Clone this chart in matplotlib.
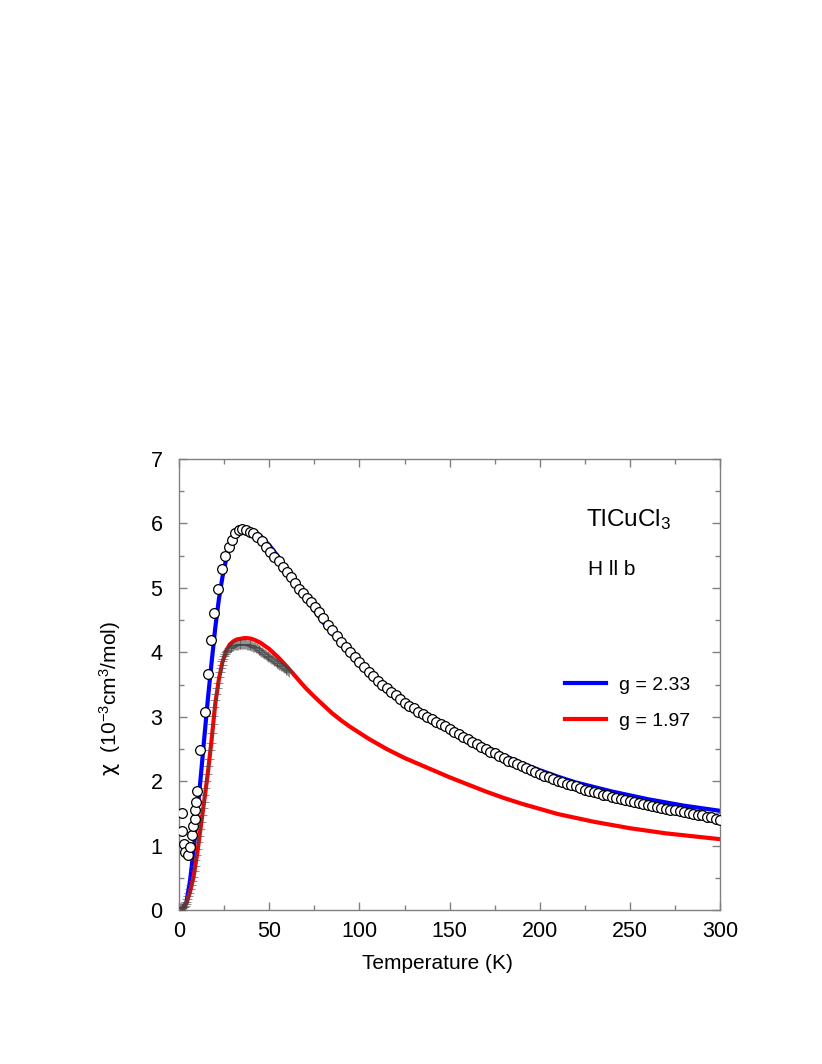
import matplotlib
matplotlib.use("Agg")
import matplotlib.pyplot as plt
from matplotlib.ticker import MultipleLocator

plt.rcParams['font.family'] = ['Liberation Sans', 'DejaVu Sans']
plt.rcParams['mathtext.fontset'] = 'custom'
plt.rcParams['mathtext.rm'] = 'Liberation Sans'
plt.rcParams['mathtext.sf'] = 'DejaVu Sans'
plt.rcParams['mathtext.default'] = 'regular'

# measured susceptibility, H || b (open circles)
circ_T = [1.5, 1.8, 2.4, 3.3, 4.8, 6.1, 7.0, 7.9, 8.5, 8.9, 9.2, 9.8,
          11.6, 14.1, 15.9, 17.7, 19.4, 21.8, 23.7, 25.5, 27.4, 29.2, 31.0,
          32.9, 34.8, 37.0, 39.0, 41.2, 43.4, 45.8, 48.0, 50.5, 52.7, 55.1,
          57.5, 59.7, 61.9, 64.3, 66.2, 68.9, 71.0, 73.2, 75.4,
          77.5, 80, 82.5, 85, 87.5, 90, 92.5, 95, 97.5, 100,
          102.5, 105, 107.5, 110, 112.5, 115, 117.5, 120, 122.5, 125,
          127.5, 130, 132.5, 135, 137.5, 140, 142.5, 145, 147.5,
          150, 152.5, 155, 157.5, 160, 162.5, 165, 167.5, 170, 172.5,
          175, 177.5, 180, 182.5, 185, 187.5, 190, 192.5, 195, 197.5,
          200, 202.5, 205, 207.5, 210, 212.5, 215, 217.5, 220, 222.5,
          225, 227.5, 230, 232.5, 235, 237.5, 240, 242.5, 245, 247.5,
          250, 252.5, 255, 257.5, 260, 262.5, 265, 267.5, 270, 272.5,
          275, 277.5, 280, 282.5, 285, 287.5, 290, 292.5, 295, 297.5,
          300]
circ_chi = [1.50, 1.22, 1.03, 0.90, 0.85, 0.98, 1.16, 1.30, 1.42, 1.55, 1.68,
            1.84, 2.48, 3.08, 3.66, 4.19, 4.61, 4.98, 5.29, 5.49, 5.64, 5.75,
            5.85, 5.90, 5.91, 5.90, 5.87, 5.85, 5.79, 5.72, 5.64, 5.56, 5.48,
            5.42, 5.33, 5.25, 5.17, 5.08, 4.99, 4.92, 4.85, 4.78, 4.71,
            4.63, 4.53, 4.43, 4.34, 4.25, 4.16, 4.08, 4.00, 3.92, 3.85,
            3.77, 3.70, 3.63, 3.56, 3.50, 3.44, 3.38, 3.33, 3.28, 3.22,
            3.17, 3.13, 3.08, 3.04, 3.00, 2.96, 2.92, 2.88, 2.85,
            2.81, 2.77, 2.73, 2.69, 2.65, 2.61, 2.57, 2.53, 2.50, 2.46,
            2.43, 2.39, 2.36, 2.32, 2.29, 2.26, 2.23, 2.20, 2.17, 2.14,
            2.11, 2.08, 2.06, 2.03, 2.01, 1.98, 1.96, 1.94, 1.92, 1.89,
            1.87, 1.85, 1.83, 1.81, 1.79, 1.78, 1.76, 1.74, 1.72, 1.71,
            1.69, 1.68, 1.66, 1.65, 1.63, 1.62, 1.60, 1.59, 1.57, 1.56,
            1.55, 1.53, 1.52, 1.51, 1.49, 1.48, 1.47, 1.45, 1.44, 1.42,
            1.40]

# second data set (crosses)
cross_T = [0.5, 1.0, 1.5, 2.0, 2.5, 3.0, 3.5, 4.0, 4.5, 5.0, 5.5, 6.0, 6.5,
           7.0, 7.5, 8.0, 8.5, 9.0, 9.5, 10.0, 10.5, 11.0, 11.5, 12.0, 12.5,
           13.0, 13.5, 14.0, 14.5, 15.0, 15.5, 16.0, 16.5, 17.0, 17.5, 18.0,
           18.5, 19.0, 19.5, 20.0, 20.5, 21.0, 21.5, 22.0, 22.5, 23.0, 23.5,
           24.0, 24.5, 25.0, 25.5, 26.0, 26.5, 27.0, 27.5, 28.0, 28.5, 29.0,
           29.5, 30.0, 30.5, 31.0, 31.5, 32.0, 32.5, 33.0, 33.5, 34.0, 34.5,
           35.0, 35.5, 36.0, 36.5, 37.0, 37.5, 38.0, 38.5, 39.0, 39.5, 40.0,
           40.5, 41.0, 41.5, 42.0, 42.5, 43.0, 43.5, 44.0, 44.5, 45.0, 45.5,
           46.0, 46.5, 47.0, 47.5, 48.0, 48.5, 49.0, 49.5, 50.0, 50.5, 51.0,
           51.5, 52.0, 52.5, 53.0, 53.5, 54.0, 54.5, 55.0, 55.5, 56.0, 56.5,
           57.0, 57.5, 58.0, 58.5, 59.0, 59.5, 60.0, 60.5, 61.0]
cross_chi = [0.03, 0.05, 0.03, 0.04, 0.05, 0.07, 0.09, 0.13, 0.17, 0.22,
             0.27, 0.33, 0.39, 0.45, 0.52, 0.60, 0.69, 0.77, 0.86, 0.95,
             1.05, 1.15, 1.26, 1.37, 1.47, 1.58, 1.68, 1.79, 1.89, 2.00,
             2.11, 2.23, 2.35, 2.48, 2.60, 2.74, 2.88, 3.01, 3.15, 3.26,
             3.36, 3.45, 3.53, 3.62, 3.69, 3.76, 3.81, 3.86, 3.90, 3.94,
             3.97, 4.00, 4.02, 4.04, 4.06, 4.07, 4.08, 4.09, 4.10, 4.10,
             4.11, 4.11, 4.12, 4.12, 4.12, 4.13, 4.13, 4.13, 4.13, 4.13,
             4.13, 4.13, 4.13, 4.13, 4.12, 4.12, 4.12, 4.11, 4.11, 4.10,
             4.10, 4.09, 4.08, 4.08, 4.07, 4.06, 4.05, 4.04, 4.03, 4.02,
             4.01, 4.00, 3.99, 3.98, 3.97, 3.96, 3.95, 3.94, 3.93, 3.92,
             3.91, 3.90, 3.89, 3.88, 3.87, 3.86, 3.85, 3.84, 3.83, 3.82,
             3.81, 3.80, 3.79, 3.78, 3.77, 3.76, 3.75, 3.74, 3.73, 3.72,
             3.71, 3.70]

# model curves
fit_T = [0, 2, 4, 6, 8, 10, 12, 14, 16, 18, 20, 22, 24, 26, 28, 30, 32, 34,
         36, 38, 40, 42, 45, 50, 55, 60, 65, 70, 75, 80, 85, 90, 95, 100,
         105, 110, 115, 120, 125, 130, 135, 140, 145, 150, 160, 170, 180,
         190, 200, 210, 220, 230, 240, 250, 260, 270, 280, 290, 300]
blue_chi = [0.00, 0.03, 0.12, 0.45, 0.93, 1.50, 2.08, 2.70, 3.30, 3.85,
            4.38, 4.82, 5.17, 5.44, 5.63, 5.76, 5.85, 5.90, 5.92, 5.92,
            5.90, 5.87, 5.81, 5.66, 5.48, 5.28, 5.06, 4.85, 4.65, 4.46,
            4.28, 4.13, 3.99, 3.85, 3.71, 3.58, 3.46, 3.35, 3.25, 3.15,
            3.06, 2.98, 2.90, 2.83, 2.68, 2.54, 2.40, 2.28, 2.17, 2.07,
            1.98, 1.91, 1.84, 1.78, 1.72, 1.67, 1.62, 1.58, 1.54]
red_chi = [0.00, 0.01, 0.10, 0.28, 0.52, 0.88, 1.30, 1.72, 2.15, 2.65,
           3.20, 3.58, 3.85, 4.02, 4.12, 4.17, 4.20, 4.21, 4.22, 4.22,
           4.21, 4.19, 4.15, 4.05, 3.92, 3.77, 3.61, 3.45, 3.31, 3.18,
           3.05, 2.94, 2.84, 2.75, 2.66, 2.58, 2.50, 2.43, 2.36, 2.30,
           2.24, 2.18, 2.12, 2.06, 1.95, 1.84, 1.74, 1.65, 1.57, 1.49,
           1.43, 1.37, 1.32, 1.27, 1.23, 1.19, 1.16, 1.13, 1.10]
fit_labels = ['g = 2.33', 'g = 1.97']

fig = plt.figure(figsize=(8.22, 10.64), dpi=100)
ax = fig.add_axes([0.218, 0.1447, 0.658, 0.4239])

lb, = ax.plot(fit_T, blue_chi, color='#0000ff', lw=3.0, zorder=2)
lr, = ax.plot(fit_T, red_chi, color='#ff0000', lw=3.0, zorder=2)
ax.plot(cross_T, cross_chi, ls='none', marker='+', ms=7, mew=0.7,
        color='#444444', alpha=0.6, zorder=3)
ax.plot(circ_T, circ_chi, ls='none', marker='o', ms=7, mfc='white',
        mec='black', mew=0.9, zorder=4)

ax.set_xlim(0, 300)
ax.set_ylim(0, 7)
ax.xaxis.set_major_locator(MultipleLocator(50))
ax.xaxis.set_minor_locator(MultipleLocator(25))
ax.yaxis.set_major_locator(MultipleLocator(1))
ax.yaxis.set_minor_locator(MultipleLocator(0.5))

spine_c = '#808080'
for s in ax.spines.values():
    s.set_color(spine_c)
    s.set_linewidth(1.0)
ax.tick_params(which='both', direction='in', top=True, right=True,
               color=spine_c, width=1.0, labelsize=15.5)
ax.tick_params(which='major', length=6)
ax.tick_params(which='minor', length=3.3)
ax.tick_params(axis='x', pad=8)
ax.tick_params(axis='y', pad=12)

ax.set_xlabel('Temperature (K)', fontsize=15)
ax.xaxis.set_label_coords(0.477, -0.098)
ax.set_ylabel('$\\mathsf{\\chi}$  (10$^{-3}$cm$^{3}$/mol)', fontsize=15)
ax.yaxis.set_label_coords(-0.104, 0.468)

ax.text(0.752, 0.865, 'TlCuCl$_3$', transform=ax.transAxes, fontsize=17.5,
        va='center', ha='left')
ax.text(0.756, 0.755, 'H ll b', transform=ax.transAxes, fontsize=15,
        va='center', ha='left')

ax.legend([lb, lr], fit_labels, loc='center left',
          bbox_to_anchor=(0.713, 0.459), frameon=False, fontsize=14,
          handlelength=2.1, handletextpad=0.7, labelspacing=0.95,
          borderpad=0, borderaxespad=0)

fig.savefig('out.png', dpi=100)
